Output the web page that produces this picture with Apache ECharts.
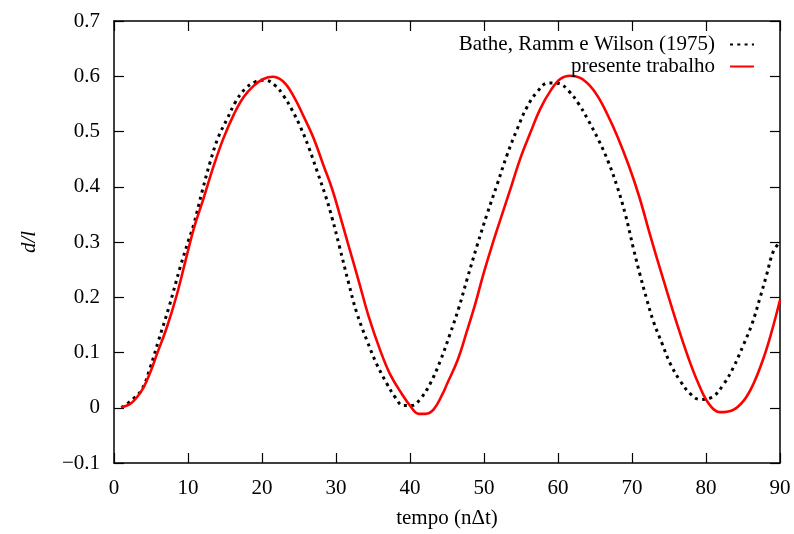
<!DOCTYPE html>
<html>
<head>
<meta charset="utf-8">
<script src="https://cdn.jsdelivr.net/npm/echarts@6/dist/echarts.min.js"></script>
<style>
html,body{margin:0;padding:0;background:#fff;}
#c{width:794px;height:534px;}
</style>
</head>
<body>
<div id="c"></div>
<script>
// Series names
var seriesNames = ['Bathe, Ramm e Wilson (1975)', 'presente trabalho'];

// Bathe, Ramm e Wilson (1975) — dotted black
var tBathe = [1.0, 2.6, 3.8, 4.9, 6.0, 7.4, 9.0, 10.0, 10.8, 11.9, 13.0, 14.1, 15.3, 16.4, 17.7, 19.1, 20.4, 21.8, 22.9, 24.1, 25.2, 26.3, 27.4, 28.6, 29.5, 30.5, 31.7, 32.8, 34.2, 35.5, 36.9, 38.0, 39.1, 40.3, 41.4, 42.7, 44.1, 45.4, 46.6, 47.7, 49.1, 50.4, 51.8, 53.1, 54.5, 55.8, 57.2, 58.7, 60.1, 61.4, 62.8, 64.1, 65.5, 66.8, 68.0, 69.1, 70.2, 71.1, 72.0, 72.9, 74.1, 75.2, 76.5, 77.9, 79.2, 80.8, 82.4, 83.7, 85.1, 86.2, 87.3, 88.2, 89.1, 90.0];
var dBathe = [0.000, 0.016, 0.034, 0.073, 0.121, 0.181, 0.257, 0.300, 0.333, 0.391, 0.445, 0.490, 0.523, 0.553, 0.577, 0.590, 0.593, 0.583, 0.565, 0.538, 0.508, 0.472, 0.430, 0.383, 0.342, 0.290, 0.226, 0.172, 0.121, 0.079, 0.043, 0.019, 0.004, 0.004, 0.016, 0.043, 0.085, 0.133, 0.181, 0.232, 0.295, 0.350, 0.405, 0.457, 0.505, 0.544, 0.572, 0.588, 0.587, 0.574, 0.550, 0.520, 0.484, 0.445, 0.400, 0.350, 0.288, 0.240, 0.196, 0.156, 0.115, 0.079, 0.049, 0.025, 0.015, 0.019, 0.043, 0.073, 0.115, 0.151, 0.199, 0.241, 0.283, 0.300];

// presente trabalho — solid red
var tPresente = [1.0, 2.2, 3.1, 4.0, 4.9, 5.8, 7.2, 8.5, 9.7, 10.8, 12.1, 13.5, 14.8, 16.2, 17.5, 18.9, 20.2, 21.4, 22.9, 24.3, 25.6, 27.0, 28.3, 29.5, 30.6, 31.6, 33.1, 34.4, 36.0, 37.3, 38.9, 40.0, 41.2, 42.1, 43.2, 44.4, 45.0, 46.4, 47.7, 48.8, 49.9, 51.0, 52.2, 53.6, 54.9, 56.3, 57.6, 59.0, 60.3, 61.6, 63.0, 64.3, 65.4, 66.6, 68.0, 69.6, 71.0, 72.5, 74.3, 76.1, 77.6, 79.0, 80.4, 81.9, 83.5, 85.1, 86.4, 87.8, 88.9, 90.0];
var dPresente = [0.001, 0.007, 0.019, 0.037, 0.064, 0.097, 0.148, 0.205, 0.268, 0.325, 0.379, 0.439, 0.488, 0.531, 0.562, 0.583, 0.595, 0.599, 0.590, 0.563, 0.528, 0.487, 0.439, 0.395, 0.345, 0.298, 0.228, 0.166, 0.103, 0.061, 0.025, 0.004, -0.011, -0.011, -0.003, 0.025, 0.043, 0.085, 0.139, 0.187, 0.241, 0.290, 0.340, 0.397, 0.451, 0.499, 0.541, 0.574, 0.595, 0.601, 0.597, 0.583, 0.563, 0.533, 0.492, 0.437, 0.381, 0.310, 0.229, 0.151, 0.091, 0.043, 0.007, -0.008, -0.005, 0.013, 0.043, 0.091, 0.139, 0.195];

// Axis ticks
var xTicks = [0, 10, 20, 30, 40, 50, 60, 70, 80, 90];
var yTicks = [-0.1, 0, 0.1, 0.2, 0.3, 0.4, 0.5, 0.6, 0.7];

function pairs(t, d) { return t.map(function (v, i) { return [v, d[i]]; }); }

var FONT = 'Liberation Serif';
var chart = echarts.init(document.getElementById('c'), null, { renderer: 'canvas' });

var axisLine = { show: true, onZero: false, lineStyle: { color: '#000', width: 1.5 } };
var tickStyle = { show: true, inside: true, length: 10, lineStyle: { color: '#000', width: 1.2 } };
var legendCommon = {
  orient: 'vertical', align: 'right', right: 39, padding: 0,
  itemWidth: 24, itemHeight: 14,
  itemStyle: { color: 'rgba(0,0,0,0)', borderWidth: 0, opacity: 0 },
  textStyle: { fontFamily: FONT, fontSize: 21, color: '#000', padding: [0, 10, 0, 0] }
};

chart.setOption({
  animation: false,
  backgroundColor: '#fff',
  grid: { left: 114, right: 14, top: 21, bottom: 68 },
  legend: [
    Object.assign({}, legendCommon, { data: [seriesNames[0]], top: 34 }),
    Object.assign({}, legendCommon, { data: [seriesNames[1]], top: 56 })
  ],
  xAxis: [
    {
      type: 'value', position: 'bottom', min: xTicks[0], max: xTicks[xTicks.length - 1], interval: 10,
      name: 'tempo (n\u0394t)', nameLocation: 'middle', nameGap: 45,
      nameTextStyle: { fontFamily: FONT, fontSize: 21, color: '#000' },
      axisLine: axisLine, axisTick: tickStyle, splitLine: { show: false },
      axisLabel: { fontFamily: FONT, fontSize: 21, color: '#000', margin: 15 }
    },
    {
      type: 'value', position: 'top', min: xTicks[0], max: xTicks[xTicks.length - 1], interval: 10,
      axisLine: axisLine, axisTick: tickStyle, splitLine: { show: false },
      axisLabel: { show: false }
    }
  ],
  yAxis: [
    {
      type: 'value', position: 'left', min: yTicks[0], max: yTicks[yTicks.length - 1], interval: 0.1,
      name: 'd/l', nameLocation: 'middle', nameGap: 74,
      nameTextStyle: { fontFamily: FONT, fontSize: 21, color: '#000', fontStyle: 'italic' },
      axisLine: axisLine, axisTick: tickStyle, splitLine: { show: false },
      axisLabel: {
        fontFamily: FONT, fontSize: 21, color: '#000', margin: 14,
        formatter: function (v) {
          var s = String(Math.round(v * 10) / 10);
          return s.replace('-', '\u2212');
        }
      }
    },
    {
      type: 'value', position: 'right', min: yTicks[0], max: yTicks[yTicks.length - 1], interval: 0.1,
      axisLine: axisLine, axisTick: tickStyle, splitLine: { show: false },
      axisLabel: { show: false }
    }
  ],
  series: [
    {
      name: seriesNames[0], type: 'line', xAxisIndex: 0, yAxisIndex: 0,
      data: pairs(tBathe, dBathe), symbol: 'none', smooth: 0.4,
      lineStyle: { color: '#000', width: 3, type: [3, 4.3], cap: 'butt' },
      itemStyle: { color: '#000' }
    },
    {
      name: seriesNames[1], type: 'line', xAxisIndex: 0, yAxisIndex: 0,
      data: pairs(tPresente, dPresente), symbol: 'none', smooth: 0.4,
      lineStyle: { color: '#ff0000', width: 2.6 },
      itemStyle: { color: '#ff0000' }
    }
  ]
});
</script>
</body>
</html>
